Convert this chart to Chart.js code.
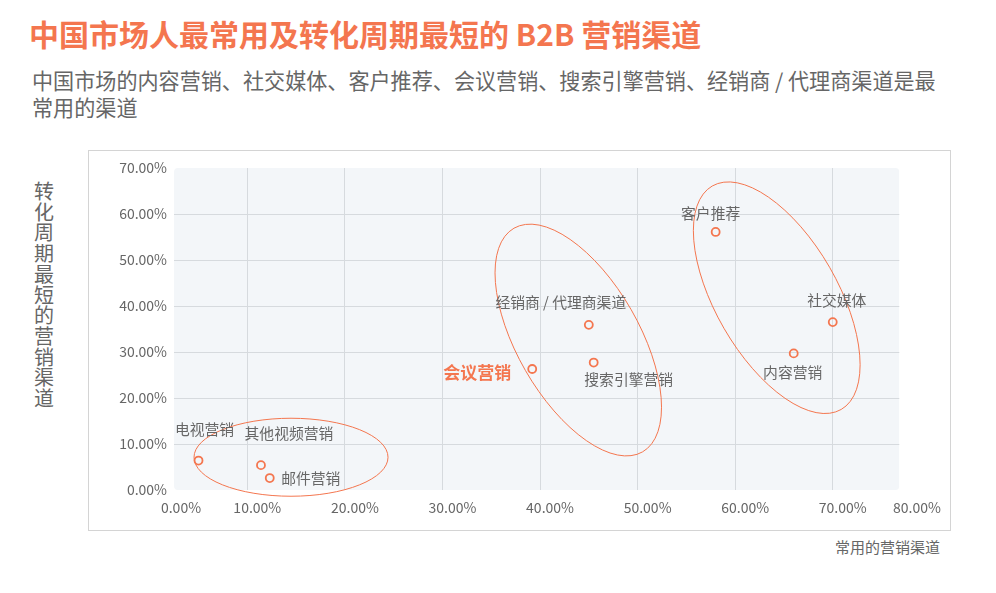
<!DOCTYPE html>
<html>
<head>
<meta charset="utf-8">
<script src="https://cdn.jsdelivr.net/npm/chart.js@4.4.1/dist/chart.umd.min.js"></script>
<style>
  html, body { margin:0; padding:0; background:#fff; }
  body { width:996px; height:593px; position:relative; overflow:hidden; font-family:"Noto Sans CJK SC","Noto Sans",sans-serif; }
  #title { position:absolute; left:29px; top:18px; font-size:30px; line-height:30px; font-weight:bold; color:#f4764f; white-space:nowrap; }
  #subtitle { position:absolute; left:32px; top:67px; font-size:21.1px; line-height:27px; color:#666; white-space:nowrap; }
  #box { position:absolute; left:88px; top:150px; width:861px; height:379px; border:1.5px solid #d4d4d4; }
  #ytitle { position:absolute; left:34px; top:181px; width:20px; font-size:20px; line-height:20.7px; color:#666; text-align:center; word-break:break-all; }
  #xtitle { position:absolute; left:780px; width:160px; top:537px; font-size:15px; line-height:20px; color:#666; text-align:right; white-space:nowrap; }
  #c { position:absolute; left:0; top:0; }
</style>
</head>
<body>
<div id="title">中国市场人最常用及转化周期最短的 B2B 营销渠道</div>
<div id="subtitle">中国市场的内容营销、社交媒体、客户推荐、会议营销、搜索引擎营销、经销商 / 代理商渠道是最<br>常用的渠道</div>
<div id="box"></div>
<div id="ytitle">转化周期最短的营销渠道</div>
<div id="xtitle">常用的营销渠道</div>
<canvas id="c" width="996" height="593" style="width:996px;height:593px"></canvas>
<script>
// ---- data ----
const categories = ["电视营销","其他视频营销","邮件营销","会议营销","经销商 / 代理商渠道","搜索引擎营销","客户推荐","社交媒体","内容营销"];
const usageRate = [5.0, 11.4, 12.3, 39.2, 45.0, 45.5, 58.0, 70.0, 66.0];      // 常用的营销渠道 (%)
const shortCycleRate = [6.4, 5.4, 2.6, 26.3, 35.9, 27.7, 56.1, 36.5, 29.7];   // 转化周期最短 (%)
const xTickLabels = ["0.00%","10.00%","20.00%","30.00%","40.00%","50.00%","60.00%","70.00%","80.00%"];
const yTickLabels = ["0.00%","10.00%","20.00%","30.00%","40.00%","50.00%","60.00%","70.00%"];

// ---- styling / annotation config ----
const ORANGE = '#f4764f';
const GRID = '#d6dade';
const FONT = '"Noto Sans CJK SC","Noto Sans",sans-serif';
const X_MIN = 2.18, X_MAX = 77.61, BG_X0 = 2.49, BG_X1 = 76.82;
const labelStyle = {
  offsets: [[6,-31],[28,-32],[41,0],[-55,4],[-28,-22],[35,17],[-5,-19],[4,-22],[-1,19]],
  highlight: 3
};
const ellipses = [
  {cx:14.48, cy:7.12, rx:97, ry:39, rot:0},
  {cx:43.92, cy:32.6, rx:129, ry:61, rot:60.1},
  {cx:64.26, cy:41.8, rx:129, ry:61, rot:60}
];

const points = usageRate.map((x, i) => ({x, y: shortCycleRate[i]}));

const decor = {
  id: 'decor',
  beforeDraw(chart) {
    const {ctx, scales:{x, y}} = chart;
    const x0 = x.getPixelForValue(BG_X0), x1 = x.getPixelForValue(BG_X1);
    const y0 = y.getPixelForValue(70), y1 = y.getPixelForValue(0);
    ctx.save();
    ctx.fillStyle = '#f3f6f9';
    ctx.beginPath();
    if (ctx.roundRect) ctx.roundRect(x0, y0, x1 - x0, y1 - y0, 4); else ctx.rect(x0, y0, x1 - x0, y1 - y0);
    ctx.fill();
    ctx.restore();
  },
  beforeDatasetsDraw(chart) {
    const {ctx, chartArea, scales:{x}} = chart;
    const x0 = x.getPixelForValue(BG_X0), x1 = x.getPixelForValue(BG_X1);
    ctx.save();
    ctx.fillStyle = '#fff';
    ctx.fillRect(chartArea.left - 1, chartArea.top - 1, x0 - chartArea.left + 1, chartArea.bottom - chartArea.top + 2);
    ctx.fillRect(x1, chartArea.top - 1, chartArea.right - x1 + 1, chartArea.bottom - chartArea.top + 2);
    ctx.restore();
  },
  afterDatasetsDraw(chart) {
    const {ctx, scales:{x, y}} = chart;
    ctx.save();
    ctx.strokeStyle = ORANGE;
    ctx.lineWidth = 1;
    ellipses.forEach(e => {
      ctx.beginPath();
      ctx.ellipse(x.getPixelForValue(e.cx), y.getPixelForValue(e.cy), e.rx, e.ry, e.rot * Math.PI / 180, 0, Math.PI * 2);
      ctx.stroke();
    });
    ctx.textAlign = 'center';
    ctx.textBaseline = 'middle';
    const meta = chart.getDatasetMeta(0);
    meta.data.forEach((pt, i) => {
      const [dx, dy] = labelStyle.offsets[i];
      if (i === labelStyle.highlight) {
        ctx.font = 'bold 17px ' + FONT;
        ctx.fillStyle = ORANGE;
      } else {
        ctx.font = '14.8px ' + FONT;
        ctx.fillStyle = '#666';
      }
      ctx.fillText(categories[i], pt.x + dx, pt.y + dy);
    });
    ctx.restore();
  }
};

new Chart(document.getElementById('c'), {
  type: 'scatter',
  data: {
    datasets: [{
      label: '营销渠道',
      data: points,
      pointRadius: 4,
      pointHoverRadius: 4,
      borderWidth: 1.8,
      borderColor: ORANGE,
      backgroundColor: 'rgba(0,0,0,0)'
    }]
  },
  options: {
    responsive: false,
    animation: false,
    layout: { padding: { left: 100, right: 89, top: 168, bottom: 63 } },
    plugins: { legend: { display: false }, tooltip: { enabled: false } },
    scales: {
      x: {
        type: 'linear',
        min: X_MIN, max: X_MAX,
        afterBuildTicks(scale) {
          scale.ticks = [X_MIN, 10, 20, 30, 40, 50, 60, 70, X_MAX].map(v => ({value: v}));
        },
        afterFit(scale) { scale.height = 40; },
        ticks: {
          callback: (v, i) => xTickLabels[i],
          labelOffset: 10,
          padding: 9,
          maxRotation: 0,
          autoSkip: false,
          color: '#666',
          font: { family: FONT, size: 14 }
        },
        grid: {
          drawTicks: false,
          color: c => (c.index === 0 || c.index === 8) ? 'rgba(0,0,0,0)' : GRID,
          lineWidth: 1
        },
        border: { display: false }
      },
      y: {
        type: 'linear',
        min: 0, max: 70,
        afterFit(scale) { scale.width = 71; },
        ticks: {
          stepSize: 10,
          callback: (v, i) => yTickLabels[i],
          padding: 4,
          color: '#666',
          font: { family: FONT, size: 14 }
        },
        grid: {
          drawTicks: false,
          color: c => (c.index === 0 || c.index === 7) ? 'rgba(0,0,0,0)' : GRID,
          lineWidth: 1
        },
        border: { display: false }
      }
    }
  },
  plugins: [decor]
});
</script>
</body>
</html>
